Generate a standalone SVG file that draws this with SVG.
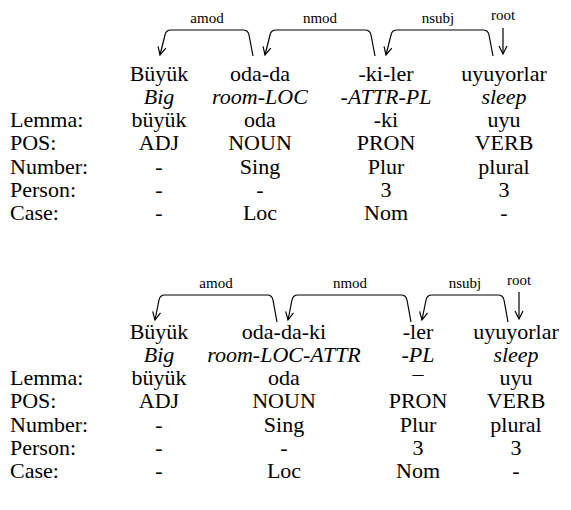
<svg xmlns="http://www.w3.org/2000/svg" width="571" height="510" viewBox="0 0 571 510">
<defs>
<marker id="ah" markerWidth="12" markerHeight="12" refX="9" refY="5" orient="auto" markerUnits="userSpaceOnUse">
<path d="M1,1 L9,5 L1,9" fill="none" stroke="#000" stroke-width="1.2"/>
</marker>
</defs>
<style>
text{font-family:"Liberation Serif","Times New Roman",serif;font-size:22px;fill:#000}
.c{text-anchor:middle}
.i{font-style:italic}
.lab{font-size:15px;text-anchor:middle}
.arc{fill:none;stroke:#000;stroke-width:1.2}
</style>
<rect width="571" height="510" fill="#fff"/>
<g id="connectors">
<path class="arc" d="M253,56 L249,35 Q248,30 243,30 L171,30 Q166,30 165,35 L160,55" marker-end="url(#ah)"/>
<path class="arc" d="M375,56 L371,35 Q370,30 365,30 L276,30 Q271,30 270,35 L265,55" marker-end="url(#ah)"/>
<path class="arc" d="M493,56 L489,35 Q488,30 483,30 L397,30 Q392,30 391,35 L386,55" marker-end="url(#ah)"/>
<path class="arc" d="M503,28 L503,54" marker-end="url(#ah)"/>
<path class="arc" d="M277,322 L273,300 Q272,295 267,295 L165,295 Q160,295 159,300 L155,320" marker-end="url(#ah)"/>
<path class="arc" d="M411,322 L407,300 Q406,295 401,295 L298,295 Q293,295 292,300 L288,320" marker-end="url(#ah)"/>
<path class="arc" d="M508,322 L504,300 Q503,295 498,295 L432,295 Q427,295 426,300 L422,320" marker-end="url(#ah)"/>
<path class="arc" d="M519,292 L519,319" marker-end="url(#ah)"/>
</g>
<g id="arc-labels">
<text class="lab" x="207" y="23">amod</text>
<text class="lab" x="320" y="23">nmod</text>
<text class="lab" x="438" y="23">nsubj</text>
<text class="lab" x="503" y="20">root</text>
<text class="lab" x="216" y="288">amod</text>
<text class="lab" x="350" y="288">nmod</text>
<text class="lab" x="465" y="288">nsubj</text>
<text class="lab" x="519" y="285">root</text>
</g>
<g id="labels-top">
<text x="10" y="127">Lemma:</text>
<text x="10" y="150">POS:</text>
<text x="10" y="174">Number:</text>
<text x="10" y="197">Person:</text>
<text x="10" y="220">Case:</text>
</g>
<g id="w1-top">
<text class="c" x="159" y="81">Büyük</text>
<text class="c i" x="159" y="104">Big</text>
<text class="c" x="159" y="127">büyük</text>
<text class="c" x="159" y="150">ADJ</text>
<text class="c" x="159" y="174">-</text>
<text class="c" x="159" y="197">-</text>
<text class="c" x="159" y="220">-</text>
</g>
<g id="w2-top">
<text class="c" x="260" y="81">oda-da</text>
<text class="c i" x="260" y="104">room-LOC</text>
<text class="c" x="260" y="127">oda</text>
<text class="c" x="260" y="150">NOUN</text>
<text class="c" x="260" y="174">Sing</text>
<text class="c" x="260" y="197">-</text>
<text class="c" x="260" y="220">Loc</text>
</g>
<g id="w3-top">
<text class="c" x="386" y="81">-ki-ler</text>
<text class="c i" x="386" y="104">-ATTR-PL</text>
<text class="c" x="386" y="127">-ki</text>
<text class="c" x="386" y="150">PRON</text>
<text class="c" x="386" y="174">Plur</text>
<text class="c" x="386" y="197">3</text>
<text class="c" x="386" y="220">Nom</text>
</g>
<g id="w4-top">
<text class="c" x="504" y="81">uyuyorlar</text>
<text class="c i" x="504" y="104">sleep</text>
<text class="c" x="504" y="127">uyu</text>
<text class="c" x="504" y="150">VERB</text>
<text class="c" x="504" y="174">plural</text>
<text class="c" x="504" y="197">3</text>
<text class="c" x="504" y="220">-</text>
</g>
<g id="labels-bottom">
<text x="10" y="385">Lemma:</text>
<text x="10" y="408">POS:</text>
<text x="10" y="432">Number:</text>
<text x="10" y="455">Person:</text>
<text x="10" y="478">Case:</text>
</g>
<g id="w1-bottom">
<text class="c" x="159" y="339">Büyük</text>
<text class="c i" x="159" y="362">Big</text>
<text class="c" x="159" y="385">büyük</text>
<text class="c" x="159" y="408">ADJ</text>
<text class="c" x="159" y="432">-</text>
<text class="c" x="159" y="455">-</text>
<text class="c" x="159" y="478">-</text>
</g>
<g id="w2-bottom">
<text class="c" x="284" y="339">oda-da-ki</text>
<text class="c i" x="284" y="362">room-LOC-ATTR</text>
<text class="c" x="284" y="385">oda</text>
<text class="c" x="284" y="408">NOUN</text>
<text class="c" x="284" y="432">Sing</text>
<text class="c" x="284" y="455">-</text>
<text class="c" x="284" y="478">Loc</text>
</g>
<g id="w3-bottom">
<text class="c" x="418" y="339">-ler</text>
<text class="c i" x="418" y="362">-PL</text>
<text class="c" x="418" y="373">_</text>
<text class="c" x="418" y="408">PRON</text>
<text class="c" x="418" y="432">Plur</text>
<text class="c" x="418" y="455">3</text>
<text class="c" x="418" y="478">Nom</text>
</g>
<g id="w4-bottom">
<text class="c" x="516" y="339">uyuyorlar</text>
<text class="c i" x="516" y="362">sleep</text>
<text class="c" x="516" y="385">uyu</text>
<text class="c" x="516" y="408">VERB</text>
<text class="c" x="516" y="432">plural</text>
<text class="c" x="516" y="455">3</text>
<text class="c" x="516" y="478">-</text>
</g>
</svg>
